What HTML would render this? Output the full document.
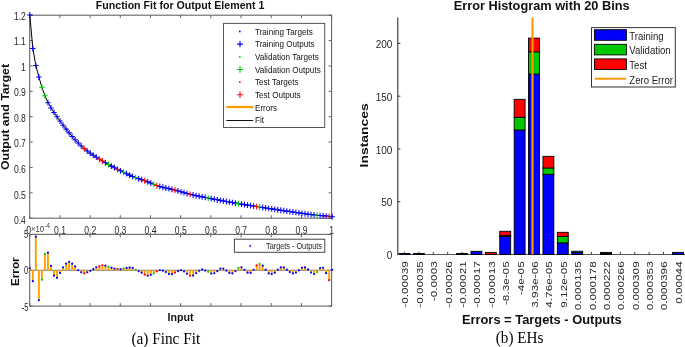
<!DOCTYPE html>
<html><head><meta charset="utf-8"><title>Function Fit and Error Histogram</title><style>html,body{margin:0;padding:0;background:#fff;width:685px;height:347px;overflow:hidden}</style></head><body>
<svg width="685" height="347" viewBox="0 0 685 347" style="display:block;filter:blur(0.3px)">
<rect width="685" height="347" fill="#fff"/>
<text x="95.8" y="8.7" font-family="'Liberation Sans', Arial, Helvetica, sans-serif" font-weight="bold" font-size="10.2" textLength="168.6" lengthAdjust="spacingAndGlyphs" fill="#111">Function Fit for Output Element 1</text>
<rect x="29.7" y="15.2" width="301.90" height="203.00" fill="none" stroke="#666" stroke-width="1.1"/>
<path d="M29.70 218.2v-3M29.70 15.2v3 M59.89 218.2v-3M59.89 15.2v3 M90.08 218.2v-3M90.08 15.2v3 M120.27 218.2v-3M120.27 15.2v3 M150.46 218.2v-3M150.46 15.2v3 M180.65 218.2v-3M180.65 15.2v3 M210.84 218.2v-3M210.84 15.2v3 M241.03 218.2v-3M241.03 15.2v3 M271.22 218.2v-3M271.22 15.2v3 M301.41 218.2v-3M301.41 15.2v3 M331.60 218.2v-3M331.60 15.2v3 M29.7 218.20h3M331.6 218.20h-3 M29.7 192.82h3M331.6 192.82h-3 M29.7 167.45h3M331.6 167.45h-3 M29.7 142.07h3M331.6 142.07h-3 M29.7 116.70h3M331.6 116.70h-3 M29.7 91.32h3M331.6 91.32h-3 M29.7 65.95h3M331.6 65.95h-3 M29.7 40.57h3M331.6 40.57h-3 M29.7 15.20h3M331.6 15.20h-3" stroke="#666" stroke-width="1" fill="none"/>
<text transform="translate(25.90,224.10) scale(1.0,1.34)" font-family="'Liberation Sans', Arial, Helvetica, sans-serif" font-size="8.6" text-anchor="end" fill="#262626">0.4</text>
<text transform="translate(25.90,198.55) scale(1.0,1.34)" font-family="'Liberation Sans', Arial, Helvetica, sans-serif" font-size="8.6" text-anchor="end" fill="#262626">0.5</text>
<text transform="translate(25.90,173.00) scale(1.0,1.34)" font-family="'Liberation Sans', Arial, Helvetica, sans-serif" font-size="8.6" text-anchor="end" fill="#262626">0.6</text>
<text transform="translate(25.90,147.45) scale(1.0,1.34)" font-family="'Liberation Sans', Arial, Helvetica, sans-serif" font-size="8.6" text-anchor="end" fill="#262626">0.7</text>
<text transform="translate(25.90,121.90) scale(1.0,1.34)" font-family="'Liberation Sans', Arial, Helvetica, sans-serif" font-size="8.6" text-anchor="end" fill="#262626">0.8</text>
<text transform="translate(25.90,96.35) scale(1.0,1.34)" font-family="'Liberation Sans', Arial, Helvetica, sans-serif" font-size="8.6" text-anchor="end" fill="#262626">0.9</text>
<text transform="translate(25.90,70.80) scale(1.0,1.34)" font-family="'Liberation Sans', Arial, Helvetica, sans-serif" font-size="8.6" text-anchor="end" fill="#262626">1</text>
<text transform="translate(25.90,45.25) scale(1.0,1.34)" font-family="'Liberation Sans', Arial, Helvetica, sans-serif" font-size="8.6" text-anchor="end" fill="#262626">1.1</text>
<text transform="translate(25.90,19.70) scale(1.0,1.34)" font-family="'Liberation Sans', Arial, Helvetica, sans-serif" font-size="8.6" text-anchor="end" fill="#262626">1.2</text>
<polyline points="29.80,15.00 32.82,48.48 35.85,65.59 38.87,77.00 41.90,87.19 44.92,95.82 47.94,102.69 50.97,107.95 53.99,112.45 57.02,116.83 60.04,121.07 63.06,125.17 66.09,129.10 69.11,132.86 72.14,136.44 75.16,139.82 78.18,142.98 81.21,145.92 84.23,148.63 87.26,151.06 90.28,153.26 93.30,155.29 96.33,157.21 99.35,159.10 102.38,160.99 105.40,162.78 108.42,164.48 111.45,166.11 114.47,167.69 117.50,169.25 120.52,170.78 123.54,172.25 126.57,173.71 129.59,175.13 132.62,176.47 135.64,177.68 138.66,178.73 141.69,179.71 144.71,180.73 147.74,181.86 150.76,183.05 153.78,184.28 156.81,185.54 159.83,186.47 162.86,187.27 165.88,188.00 168.90,188.68 171.93,189.38 174.95,190.13 177.98,190.96 181.00,191.83 184.02,192.70 187.05,193.53 190.07,194.29 193.10,194.98 196.12,195.63 199.14,196.26 202.17,196.86 205.19,197.45 208.22,198.04 211.24,198.64 214.26,199.22 217.29,199.80 220.31,200.37 223.34,200.93 226.36,201.49 229.38,202.04 232.41,202.58 235.43,203.11 238.46,203.63 241.48,204.13 244.50,204.63 247.53,205.11 250.55,205.59 253.58,206.06 256.60,206.53 259.62,207.00 262.65,207.48 265.67,207.95 268.70,208.41 271.72,208.88 274.74,209.34 277.77,209.80 280.79,210.25 283.82,210.70 286.84,211.14 289.86,211.58 292.89,212.02 295.91,212.46 298.94,212.90 301.96,213.33 304.98,213.76 308.01,214.17 311.03,214.56 314.06,214.92 317.08,215.25 320.10,215.53 323.13,215.77 326.15,216.03 329.18,216.34 332.20,216.77" fill="none" stroke="#000" stroke-width="1"/>
<path d="M27.10 15.00h5.4M29.80 12.10v5.8" stroke="#0000ff" stroke-width="1.05" fill="none"/>
<path d="M30.12 48.48h5.4M32.82 45.58v5.8" stroke="#0000ff" stroke-width="1.05" fill="none"/>
<path d="M33.15 65.59h5.4M35.85 62.69v5.8" stroke="#0000ff" stroke-width="1.05" fill="none"/>
<path d="M36.17 77.00h5.4M38.87 74.10v5.8" stroke="#0000ff" stroke-width="1.05" fill="none"/>
<path d="M39.20 87.19h5.4M41.90 84.29v5.8" stroke="#00c800" stroke-width="1.05" fill="none"/>
<path d="M42.22 95.82h5.4M44.92 92.92v5.8" stroke="#00c800" stroke-width="1.05" fill="none"/>
<path d="M45.24 102.69h5.4M47.94 99.79v5.8" stroke="#0000ff" stroke-width="1.05" fill="none"/>
<path d="M48.27 107.95h5.4M50.97 105.05v5.8" stroke="#0000ff" stroke-width="1.05" fill="none"/>
<path d="M51.29 112.45h5.4M53.99 109.55v5.8" stroke="#0000ff" stroke-width="1.05" fill="none"/>
<path d="M54.32 116.83h5.4M57.02 113.93v5.8" stroke="#0000ff" stroke-width="1.05" fill="none"/>
<path d="M57.34 121.07h5.4M60.04 118.17v5.8" stroke="#0000ff" stroke-width="1.05" fill="none"/>
<path d="M60.36 125.17h5.4M63.06 122.27v5.8" stroke="#0000ff" stroke-width="1.05" fill="none"/>
<path d="M63.39 129.10h5.4M66.09 126.20v5.8" stroke="#0000ff" stroke-width="1.05" fill="none"/>
<path d="M66.41 132.86h5.4M69.11 129.96v5.8" stroke="#0000ff" stroke-width="1.05" fill="none"/>
<path d="M69.44 136.44h5.4M72.14 133.54v5.8" stroke="#0000ff" stroke-width="1.05" fill="none"/>
<path d="M72.46 139.82h5.4M75.16 136.92v5.8" stroke="#0000ff" stroke-width="1.05" fill="none"/>
<path d="M75.48 142.98h5.4M78.18 140.08v5.8" stroke="#0000ff" stroke-width="1.05" fill="none"/>
<path d="M78.51 145.92h5.4M81.21 143.02v5.8" stroke="#0000ff" stroke-width="1.05" fill="none"/>
<path d="M81.53 148.63h5.4M84.23 145.73v5.8" stroke="#ff0000" stroke-width="1.05" fill="none"/>
<path d="M84.56 151.06h5.4M87.26 148.16v5.8" stroke="#0000ff" stroke-width="1.05" fill="none"/>
<path d="M87.58 153.26h5.4M90.28 150.36v5.8" stroke="#0000ff" stroke-width="1.05" fill="none"/>
<path d="M90.60 155.29h5.4M93.30 152.39v5.8" stroke="#0000ff" stroke-width="1.05" fill="none"/>
<path d="M93.63 157.21h5.4M96.33 154.31v5.8" stroke="#0000ff" stroke-width="1.05" fill="none"/>
<path d="M96.65 159.10h5.4M99.35 156.20v5.8" stroke="#ff0000" stroke-width="1.05" fill="none"/>
<path d="M99.68 160.99h5.4M102.38 158.09v5.8" stroke="#ff0000" stroke-width="1.05" fill="none"/>
<path d="M102.70 162.78h5.4M105.40 159.88v5.8" stroke="#0000ff" stroke-width="1.05" fill="none"/>
<path d="M105.72 164.48h5.4M108.42 161.58v5.8" stroke="#00c800" stroke-width="1.05" fill="none"/>
<path d="M108.75 166.11h5.4M111.45 163.21v5.8" stroke="#0000ff" stroke-width="1.05" fill="none"/>
<path d="M111.77 167.69h5.4M114.47 164.79v5.8" stroke="#0000ff" stroke-width="1.05" fill="none"/>
<path d="M114.80 169.25h5.4M117.50 166.35v5.8" stroke="#ff0000" stroke-width="1.05" fill="none"/>
<path d="M117.82 170.78h5.4M120.52 167.88v5.8" stroke="#0000ff" stroke-width="1.05" fill="none"/>
<path d="M120.84 172.25h5.4M123.54 169.35v5.8" stroke="#00c800" stroke-width="1.05" fill="none"/>
<path d="M123.87 173.71h5.4M126.57 170.81v5.8" stroke="#0000ff" stroke-width="1.05" fill="none"/>
<path d="M126.89 175.13h5.4M129.59 172.23v5.8" stroke="#0000ff" stroke-width="1.05" fill="none"/>
<path d="M129.92 176.47h5.4M132.62 173.57v5.8" stroke="#0000ff" stroke-width="1.05" fill="none"/>
<path d="M132.94 177.68h5.4M135.64 174.78v5.8" stroke="#00c800" stroke-width="1.05" fill="none"/>
<path d="M135.96 178.73h5.4M138.66 175.83v5.8" stroke="#0000ff" stroke-width="1.05" fill="none"/>
<path d="M138.99 179.71h5.4M141.69 176.81v5.8" stroke="#0000ff" stroke-width="1.05" fill="none"/>
<path d="M142.01 180.73h5.4M144.71 177.83v5.8" stroke="#ff0000" stroke-width="1.05" fill="none"/>
<path d="M145.04 181.86h5.4M147.74 178.96v5.8" stroke="#0000ff" stroke-width="1.05" fill="none"/>
<path d="M148.06 183.05h5.4M150.76 180.15v5.8" stroke="#0000ff" stroke-width="1.05" fill="none"/>
<path d="M151.08 184.28h5.4M153.78 181.38v5.8" stroke="#00c800" stroke-width="1.05" fill="none"/>
<path d="M154.11 185.54h5.4M156.81 182.64v5.8" stroke="#ff0000" stroke-width="1.05" fill="none"/>
<path d="M157.13 186.47h5.4M159.83 183.57v5.8" stroke="#0000ff" stroke-width="1.05" fill="none"/>
<path d="M160.16 187.27h5.4M162.86 184.37v5.8" stroke="#0000ff" stroke-width="1.05" fill="none"/>
<path d="M163.18 188.00h5.4M165.88 185.10v5.8" stroke="#0000ff" stroke-width="1.05" fill="none"/>
<path d="M166.20 188.68h5.4M168.90 185.78v5.8" stroke="#0000ff" stroke-width="1.05" fill="none"/>
<path d="M169.23 189.38h5.4M171.93 186.48v5.8" stroke="#0000ff" stroke-width="1.05" fill="none"/>
<path d="M172.25 190.13h5.4M174.95 187.23v5.8" stroke="#ff0000" stroke-width="1.05" fill="none"/>
<path d="M175.28 190.96h5.4M177.98 188.06v5.8" stroke="#0000ff" stroke-width="1.05" fill="none"/>
<path d="M178.30 191.83h5.4M181.00 188.93v5.8" stroke="#0000ff" stroke-width="1.05" fill="none"/>
<path d="M181.32 192.70h5.4M184.02 189.80v5.8" stroke="#0000ff" stroke-width="1.05" fill="none"/>
<path d="M184.35 193.53h5.4M187.05 190.63v5.8" stroke="#0000ff" stroke-width="1.05" fill="none"/>
<path d="M187.37 194.29h5.4M190.07 191.39v5.8" stroke="#ff0000" stroke-width="1.05" fill="none"/>
<path d="M190.40 194.98h5.4M193.10 192.08v5.8" stroke="#0000ff" stroke-width="1.05" fill="none"/>
<path d="M193.42 195.63h5.4M196.12 192.73v5.8" stroke="#0000ff" stroke-width="1.05" fill="none"/>
<path d="M196.44 196.26h5.4M199.14 193.36v5.8" stroke="#0000ff" stroke-width="1.05" fill="none"/>
<path d="M199.47 196.86h5.4M202.17 193.96v5.8" stroke="#0000ff" stroke-width="1.05" fill="none"/>
<path d="M202.49 197.45h5.4M205.19 194.55v5.8" stroke="#0000ff" stroke-width="1.05" fill="none"/>
<path d="M205.52 198.04h5.4M208.22 195.14v5.8" stroke="#00c800" stroke-width="1.05" fill="none"/>
<path d="M208.54 198.64h5.4M211.24 195.74v5.8" stroke="#0000ff" stroke-width="1.05" fill="none"/>
<path d="M211.56 199.22h5.4M214.26 196.32v5.8" stroke="#0000ff" stroke-width="1.05" fill="none"/>
<path d="M214.59 199.80h5.4M217.29 196.90v5.8" stroke="#0000ff" stroke-width="1.05" fill="none"/>
<path d="M217.61 200.37h5.4M220.31 197.47v5.8" stroke="#0000ff" stroke-width="1.05" fill="none"/>
<path d="M220.64 200.93h5.4M223.34 198.03v5.8" stroke="#0000ff" stroke-width="1.05" fill="none"/>
<path d="M223.66 201.49h5.4M226.36 198.59v5.8" stroke="#0000ff" stroke-width="1.05" fill="none"/>
<path d="M226.68 202.04h5.4M229.38 199.14v5.8" stroke="#0000ff" stroke-width="1.05" fill="none"/>
<path d="M229.71 202.58h5.4M232.41 199.68v5.8" stroke="#0000ff" stroke-width="1.05" fill="none"/>
<path d="M232.73 203.11h5.4M235.43 200.21v5.8" stroke="#0000ff" stroke-width="1.05" fill="none"/>
<path d="M235.76 203.63h5.4M238.46 200.73v5.8" stroke="#00c800" stroke-width="1.05" fill="none"/>
<path d="M238.78 204.13h5.4M241.48 201.23v5.8" stroke="#0000ff" stroke-width="1.05" fill="none"/>
<path d="M241.80 204.63h5.4M244.50 201.73v5.8" stroke="#0000ff" stroke-width="1.05" fill="none"/>
<path d="M244.83 205.11h5.4M247.53 202.21v5.8" stroke="#0000ff" stroke-width="1.05" fill="none"/>
<path d="M247.85 205.59h5.4M250.55 202.69v5.8" stroke="#0000ff" stroke-width="1.05" fill="none"/>
<path d="M250.88 206.06h5.4M253.58 203.16v5.8" stroke="#0000ff" stroke-width="1.05" fill="none"/>
<path d="M253.90 206.53h5.4M256.60 203.63v5.8" stroke="#ff0000" stroke-width="1.05" fill="none"/>
<path d="M256.92 207.00h5.4M259.62 204.10v5.8" stroke="#00c800" stroke-width="1.05" fill="none"/>
<path d="M259.95 207.48h5.4M262.65 204.58v5.8" stroke="#0000ff" stroke-width="1.05" fill="none"/>
<path d="M262.97 207.95h5.4M265.67 205.05v5.8" stroke="#0000ff" stroke-width="1.05" fill="none"/>
<path d="M266.00 208.41h5.4M268.70 205.51v5.8" stroke="#0000ff" stroke-width="1.05" fill="none"/>
<path d="M269.02 208.88h5.4M271.72 205.98v5.8" stroke="#0000ff" stroke-width="1.05" fill="none"/>
<path d="M272.04 209.34h5.4M274.74 206.44v5.8" stroke="#0000ff" stroke-width="1.05" fill="none"/>
<path d="M275.07 209.80h5.4M277.77 206.90v5.8" stroke="#0000ff" stroke-width="1.05" fill="none"/>
<path d="M278.09 210.25h5.4M280.79 207.35v5.8" stroke="#0000ff" stroke-width="1.05" fill="none"/>
<path d="M281.12 210.70h5.4M283.82 207.80v5.8" stroke="#0000ff" stroke-width="1.05" fill="none"/>
<path d="M284.14 211.14h5.4M286.84 208.24v5.8" stroke="#0000ff" stroke-width="1.05" fill="none"/>
<path d="M287.16 211.58h5.4M289.86 208.68v5.8" stroke="#0000ff" stroke-width="1.05" fill="none"/>
<path d="M290.19 212.02h5.4M292.89 209.12v5.8" stroke="#0000ff" stroke-width="1.05" fill="none"/>
<path d="M293.21 212.46h5.4M295.91 209.56v5.8" stroke="#0000ff" stroke-width="1.05" fill="none"/>
<path d="M296.24 212.90h5.4M298.94 210.00v5.8" stroke="#0000ff" stroke-width="1.05" fill="none"/>
<path d="M299.26 213.33h5.4M301.96 210.43v5.8" stroke="#0000ff" stroke-width="1.05" fill="none"/>
<path d="M302.28 213.76h5.4M304.98 210.86v5.8" stroke="#0000ff" stroke-width="1.05" fill="none"/>
<path d="M305.31 214.17h5.4M308.01 211.27v5.8" stroke="#0000ff" stroke-width="1.05" fill="none"/>
<path d="M308.33 214.56h5.4M311.03 211.66v5.8" stroke="#0000ff" stroke-width="1.05" fill="none"/>
<path d="M311.36 214.92h5.4M314.06 212.02v5.8" stroke="#0000ff" stroke-width="1.05" fill="none"/>
<path d="M314.38 215.25h5.4M317.08 212.35v5.8" stroke="#00c800" stroke-width="1.05" fill="none"/>
<path d="M317.40 215.53h5.4M320.10 212.63v5.8" stroke="#0000ff" stroke-width="1.05" fill="none"/>
<path d="M320.43 215.77h5.4M323.13 212.87v5.8" stroke="#0000ff" stroke-width="1.05" fill="none"/>
<path d="M323.45 216.03h5.4M326.15 213.13v5.8" stroke="#0000ff" stroke-width="1.05" fill="none"/>
<path d="M326.48 216.34h5.4M329.18 213.44v5.8" stroke="#ff0000" stroke-width="1.05" fill="none"/>
<path d="M329.50 216.77h5.4M332.20 213.87v5.8" stroke="#0000ff" stroke-width="1.05" fill="none"/>
<rect x="223.5" y="23.4" width="101.2" height="104.1" fill="#fff" stroke="#555" stroke-width="1"/>
<rect x="239" y="30.70" width="1.6" height="1.6" fill="#0000ff"/>
<text transform="translate(255.00,34.60) scale(1.0,1.06)" font-family="'Liberation Sans', Arial, Helvetica, sans-serif" font-size="8.12" fill="#111">Training Targets</text>
<path d="M237 44.16h6M240 40.96v6.4" stroke="#0000ff" stroke-width="1.1"/>
<text transform="translate(255.00,47.26) scale(1.0,1.06)" font-family="'Liberation Sans', Arial, Helvetica, sans-serif" font-size="8.12" fill="#111">Training Outputs</text>
<rect x="239" y="56.02" width="1.6" height="1.6" fill="#00c800"/>
<text transform="translate(255.00,59.92) scale(1.0,1.06)" font-family="'Liberation Sans', Arial, Helvetica, sans-serif" font-size="8.12" fill="#111">Validation Targets</text>
<path d="M237 69.48h6M240 66.28v6.4" stroke="#00c800" stroke-width="1.1"/>
<text transform="translate(255.00,72.58) scale(1.0,1.06)" font-family="'Liberation Sans', Arial, Helvetica, sans-serif" font-size="8.12" fill="#111">Validation Outputs</text>
<rect x="239" y="81.34" width="1.6" height="1.6" fill="#ff0000"/>
<text transform="translate(255.00,85.24) scale(1.0,1.06)" font-family="'Liberation Sans', Arial, Helvetica, sans-serif" font-size="8.12" fill="#111">Test Targets</text>
<path d="M237 94.80h6M240 91.60v6.4" stroke="#ff0000" stroke-width="1.1"/>
<text transform="translate(255.00,97.90) scale(1.0,1.06)" font-family="'Liberation Sans', Arial, Helvetica, sans-serif" font-size="8.12" fill="#111">Test Outputs</text>
<path d="M226.4 107.00H253.2" stroke="#ff9900" stroke-width="2.2"/>
<text transform="translate(255.00,110.56) scale(1.0,1.06)" font-family="'Liberation Sans', Arial, Helvetica, sans-serif" font-size="8.12" fill="#111">Errors</text>
<path d="M226.4 120.50H253.2" stroke="#111" stroke-width="1"/>
<text transform="translate(255.00,123.22) scale(1.0,1.06)" font-family="'Liberation Sans', Arial, Helvetica, sans-serif" font-size="8.12" fill="#111">Fit</text>
<text transform="translate(28.70,233.80) scale(1.0,1.24)" font-family="'Liberation Sans', Arial, Helvetica, sans-serif" font-size="8.6" text-anchor="middle" fill="#262626">0</text>
<text transform="translate(59.99,233.80) scale(1.0,1.24)" font-family="'Liberation Sans', Arial, Helvetica, sans-serif" font-size="8.6" text-anchor="middle" fill="#262626">0.1</text>
<text transform="translate(90.18,233.80) scale(1.0,1.24)" font-family="'Liberation Sans', Arial, Helvetica, sans-serif" font-size="8.6" text-anchor="middle" fill="#262626">0.2</text>
<text transform="translate(120.37,233.80) scale(1.0,1.24)" font-family="'Liberation Sans', Arial, Helvetica, sans-serif" font-size="8.6" text-anchor="middle" fill="#262626">0.3</text>
<text transform="translate(150.56,233.80) scale(1.0,1.24)" font-family="'Liberation Sans', Arial, Helvetica, sans-serif" font-size="8.6" text-anchor="middle" fill="#262626">0.4</text>
<text transform="translate(180.75,233.80) scale(1.0,1.24)" font-family="'Liberation Sans', Arial, Helvetica, sans-serif" font-size="8.6" text-anchor="middle" fill="#262626">0.5</text>
<text transform="translate(210.94,233.80) scale(1.0,1.24)" font-family="'Liberation Sans', Arial, Helvetica, sans-serif" font-size="8.6" text-anchor="middle" fill="#262626">0.6</text>
<text transform="translate(241.13,233.80) scale(1.0,1.24)" font-family="'Liberation Sans', Arial, Helvetica, sans-serif" font-size="8.6" text-anchor="middle" fill="#262626">0.7</text>
<text transform="translate(271.32,233.80) scale(1.0,1.24)" font-family="'Liberation Sans', Arial, Helvetica, sans-serif" font-size="8.6" text-anchor="middle" fill="#262626">0.8</text>
<text transform="translate(301.51,233.80) scale(1.0,1.24)" font-family="'Liberation Sans', Arial, Helvetica, sans-serif" font-size="8.6" text-anchor="middle" fill="#262626">0.9</text>
<text transform="translate(331.70,233.80) scale(1.0,1.24)" font-family="'Liberation Sans', Arial, Helvetica, sans-serif" font-size="8.6" text-anchor="middle" fill="#262626">1</text>
<rect x="29.7" y="234.4" width="301.90" height="71.70" fill="none" stroke="#666" stroke-width="1.1"/>
<path d="M29.70 306.1v-3M29.70 234.4v3 M59.89 306.1v-3M59.89 234.4v3 M90.08 306.1v-3M90.08 234.4v3 M120.27 306.1v-3M120.27 234.4v3 M150.46 306.1v-3M150.46 234.4v3 M180.65 306.1v-3M180.65 234.4v3 M210.84 306.1v-3M210.84 234.4v3 M241.03 306.1v-3M241.03 234.4v3 M271.22 306.1v-3M271.22 234.4v3 M301.41 306.1v-3M301.41 234.4v3 M331.60 306.1v-3M331.60 234.4v3 M29.7 234.40h3M331.6 234.40h-3 M29.7 270.25h3M331.6 270.25h-3 M29.7 306.10h3M331.6 306.10h-3" stroke="#666" stroke-width="1" fill="none"/>
<path d="M29.7 270.25H331.6" stroke="#7a7a72" stroke-width="1.2"/>
<path d="M29.80 270.25V268.05 M32.82 270.25V281.15 M35.85 270.25V236.65 M38.87 270.25V300.25 M41.90 270.25V279.65 M44.92 270.25V253.75 M47.94 270.25V252.65 M50.97 270.25V265.85 M53.99 270.25V275.65 M57.02 270.25V277.85 M60.04 270.25V273.05 M63.06 270.25V267.35 M66.09 270.25V263.65 M69.11 270.25V261.85 M72.14 270.25V263.65 M75.16 270.25V266.45 M78.18 270.25V270.25 M81.21 270.25V272.35 M84.23 270.25V273.45 M87.26 270.25V272.35 M90.28 270.25V270.85 M93.30 270.25V269.15 M96.33 270.25V267.35 M99.35 270.25V266.45 M102.38 270.25V265.35 M105.40 270.25V265.65 M108.42 270.25V266.75 M111.45 270.25V267.65 M114.47 270.25V268.55 M117.50 270.25V268.75 M120.52 270.25V269.15 M123.54 270.25V268.55 M126.57 270.25V267.95 M129.59 270.25V267.65 M132.62 270.25V267.95 M135.64 270.25V269.75 M138.66 270.25V271.25 M141.69 270.25V272.65 M144.71 270.25V274.65 M147.74 270.25V275.75 M150.76 270.25V274.95 M153.78 270.25V273.45 M156.81 270.25V271.45 M159.83 270.25V270.25 M162.86 270.25V270.65 M165.88 270.25V272.05 M168.90 270.25V274.05 M171.93 270.25V274.15 M174.95 270.25V272.65 M177.98 270.25V271.15 M181.00 270.25V270.25 M184.02 270.25V271.45 M187.05 270.25V273.85 M190.07 270.25V275.75 M193.10 270.25V275.55 M196.12 270.25V273.25 M199.14 270.25V270.85 M202.17 270.25V269.45 M205.19 270.25V270.55 M208.22 270.25V271.85 M211.24 270.25V273.55 M214.26 270.25V273.25 M217.29 270.25V271.15 M220.31 270.25V268.55 M223.34 270.25V268.55 M226.36 270.25V270.65 M229.38 270.25V272.95 M232.41 270.25V273.45 M235.43 270.25V271.25 M238.46 270.25V267.75 M241.48 270.25V267.35 M244.50 270.25V269.75 M247.53 270.25V272.65 M250.55 270.25V272.95 M253.58 270.25V269.75 M256.60 270.25V265.35 M259.62 270.25V263.75 M262.65 270.25V265.65 M265.67 270.25V269.65 M268.70 270.25V273.45 M271.72 270.25V274.05 M274.74 270.25V272.65 M277.77 270.25V269.65 M280.79 270.25V267.45 M283.82 270.25V267.45 M286.84 270.25V269.65 M289.86 270.25V272.05 M292.89 270.25V273.45 M295.91 270.25V272.55 M298.94 270.25V270.45 M301.96 270.25V267.75 M304.98 270.25V267.45 M308.01 270.25V269.45 M311.03 270.25V272.55 M314.06 270.25V274.05 M317.08 270.25V272.05 M320.10 270.25V268.05 M323.13 270.25V267.75 M326.15 270.25V273.15 M329.18 270.25V280.15 M332.20 270.25V269.85" stroke="#ffa000" stroke-width="1.9" fill="none"/>
<circle cx="29.80" cy="268.05" r="1.1" fill="#0000ff"/>
<circle cx="32.82" cy="281.15" r="1.1" fill="#0000ff"/>
<circle cx="35.85" cy="236.65" r="1.1" fill="#0000ff"/>
<circle cx="38.87" cy="300.25" r="1.1" fill="#0000ff"/>
<circle cx="41.90" cy="279.65" r="1.1" fill="#00c800"/>
<circle cx="44.92" cy="253.75" r="1.1" fill="#00c800"/>
<circle cx="47.94" cy="252.65" r="1.1" fill="#0000ff"/>
<circle cx="50.97" cy="265.85" r="1.1" fill="#0000ff"/>
<circle cx="53.99" cy="275.65" r="1.1" fill="#0000ff"/>
<circle cx="57.02" cy="277.85" r="1.1" fill="#0000ff"/>
<circle cx="60.04" cy="273.05" r="1.1" fill="#0000ff"/>
<circle cx="63.06" cy="267.35" r="1.1" fill="#0000ff"/>
<circle cx="66.09" cy="263.65" r="1.1" fill="#0000ff"/>
<circle cx="69.11" cy="261.85" r="1.1" fill="#0000ff"/>
<circle cx="72.14" cy="263.65" r="1.1" fill="#0000ff"/>
<circle cx="75.16" cy="266.45" r="1.1" fill="#0000ff"/>
<circle cx="78.18" cy="270.25" r="1.1" fill="#0000ff"/>
<circle cx="81.21" cy="272.35" r="1.1" fill="#0000ff"/>
<circle cx="84.23" cy="273.45" r="1.1" fill="#ff0000"/>
<circle cx="87.26" cy="272.35" r="1.1" fill="#0000ff"/>
<circle cx="90.28" cy="270.85" r="1.1" fill="#0000ff"/>
<circle cx="93.30" cy="269.15" r="1.1" fill="#0000ff"/>
<circle cx="96.33" cy="267.35" r="1.1" fill="#0000ff"/>
<circle cx="99.35" cy="266.45" r="1.1" fill="#ff0000"/>
<circle cx="102.38" cy="265.35" r="1.1" fill="#ff0000"/>
<circle cx="105.40" cy="265.65" r="1.1" fill="#0000ff"/>
<circle cx="108.42" cy="266.75" r="1.1" fill="#00c800"/>
<circle cx="111.45" cy="267.65" r="1.1" fill="#0000ff"/>
<circle cx="114.47" cy="268.55" r="1.1" fill="#0000ff"/>
<circle cx="117.50" cy="268.75" r="1.1" fill="#ff0000"/>
<circle cx="120.52" cy="269.15" r="1.1" fill="#0000ff"/>
<circle cx="123.54" cy="268.55" r="1.1" fill="#00c800"/>
<circle cx="126.57" cy="267.95" r="1.1" fill="#0000ff"/>
<circle cx="129.59" cy="267.65" r="1.1" fill="#0000ff"/>
<circle cx="132.62" cy="267.95" r="1.1" fill="#0000ff"/>
<circle cx="135.64" cy="269.75" r="1.1" fill="#00c800"/>
<circle cx="138.66" cy="271.25" r="1.1" fill="#0000ff"/>
<circle cx="141.69" cy="272.65" r="1.1" fill="#0000ff"/>
<circle cx="144.71" cy="274.65" r="1.1" fill="#ff0000"/>
<circle cx="147.74" cy="275.75" r="1.1" fill="#0000ff"/>
<circle cx="150.76" cy="274.95" r="1.1" fill="#0000ff"/>
<circle cx="153.78" cy="273.45" r="1.1" fill="#00c800"/>
<circle cx="156.81" cy="271.45" r="1.1" fill="#ff0000"/>
<circle cx="159.83" cy="270.25" r="1.1" fill="#0000ff"/>
<circle cx="162.86" cy="270.65" r="1.1" fill="#0000ff"/>
<circle cx="165.88" cy="272.05" r="1.1" fill="#0000ff"/>
<circle cx="168.90" cy="274.05" r="1.1" fill="#0000ff"/>
<circle cx="171.93" cy="274.15" r="1.1" fill="#0000ff"/>
<circle cx="174.95" cy="272.65" r="1.1" fill="#ff0000"/>
<circle cx="177.98" cy="271.15" r="1.1" fill="#0000ff"/>
<circle cx="181.00" cy="270.25" r="1.1" fill="#0000ff"/>
<circle cx="184.02" cy="271.45" r="1.1" fill="#0000ff"/>
<circle cx="187.05" cy="273.85" r="1.1" fill="#0000ff"/>
<circle cx="190.07" cy="275.75" r="1.1" fill="#ff0000"/>
<circle cx="193.10" cy="275.55" r="1.1" fill="#0000ff"/>
<circle cx="196.12" cy="273.25" r="1.1" fill="#0000ff"/>
<circle cx="199.14" cy="270.85" r="1.1" fill="#0000ff"/>
<circle cx="202.17" cy="269.45" r="1.1" fill="#0000ff"/>
<circle cx="205.19" cy="270.55" r="1.1" fill="#0000ff"/>
<circle cx="208.22" cy="271.85" r="1.1" fill="#00c800"/>
<circle cx="211.24" cy="273.55" r="1.1" fill="#0000ff"/>
<circle cx="214.26" cy="273.25" r="1.1" fill="#0000ff"/>
<circle cx="217.29" cy="271.15" r="1.1" fill="#0000ff"/>
<circle cx="220.31" cy="268.55" r="1.1" fill="#0000ff"/>
<circle cx="223.34" cy="268.55" r="1.1" fill="#0000ff"/>
<circle cx="226.36" cy="270.65" r="1.1" fill="#0000ff"/>
<circle cx="229.38" cy="272.95" r="1.1" fill="#0000ff"/>
<circle cx="232.41" cy="273.45" r="1.1" fill="#0000ff"/>
<circle cx="235.43" cy="271.25" r="1.1" fill="#0000ff"/>
<circle cx="238.46" cy="267.75" r="1.1" fill="#00c800"/>
<circle cx="241.48" cy="267.35" r="1.1" fill="#0000ff"/>
<circle cx="244.50" cy="269.75" r="1.1" fill="#0000ff"/>
<circle cx="247.53" cy="272.65" r="1.1" fill="#0000ff"/>
<circle cx="250.55" cy="272.95" r="1.1" fill="#0000ff"/>
<circle cx="253.58" cy="269.75" r="1.1" fill="#0000ff"/>
<circle cx="256.60" cy="265.35" r="1.1" fill="#ff0000"/>
<circle cx="259.62" cy="263.75" r="1.1" fill="#00c800"/>
<circle cx="262.65" cy="265.65" r="1.1" fill="#0000ff"/>
<circle cx="265.67" cy="269.65" r="1.1" fill="#0000ff"/>
<circle cx="268.70" cy="273.45" r="1.1" fill="#0000ff"/>
<circle cx="271.72" cy="274.05" r="1.1" fill="#0000ff"/>
<circle cx="274.74" cy="272.65" r="1.1" fill="#0000ff"/>
<circle cx="277.77" cy="269.65" r="1.1" fill="#0000ff"/>
<circle cx="280.79" cy="267.45" r="1.1" fill="#0000ff"/>
<circle cx="283.82" cy="267.45" r="1.1" fill="#0000ff"/>
<circle cx="286.84" cy="269.65" r="1.1" fill="#0000ff"/>
<circle cx="289.86" cy="272.05" r="1.1" fill="#0000ff"/>
<circle cx="292.89" cy="273.45" r="1.1" fill="#0000ff"/>
<circle cx="295.91" cy="272.55" r="1.1" fill="#0000ff"/>
<circle cx="298.94" cy="270.45" r="1.1" fill="#0000ff"/>
<circle cx="301.96" cy="267.75" r="1.1" fill="#0000ff"/>
<circle cx="304.98" cy="267.45" r="1.1" fill="#0000ff"/>
<circle cx="308.01" cy="269.45" r="1.1" fill="#0000ff"/>
<circle cx="311.03" cy="272.55" r="1.1" fill="#0000ff"/>
<circle cx="314.06" cy="274.05" r="1.1" fill="#0000ff"/>
<circle cx="317.08" cy="272.05" r="1.1" fill="#00c800"/>
<circle cx="320.10" cy="268.05" r="1.1" fill="#0000ff"/>
<circle cx="323.13" cy="267.75" r="1.1" fill="#0000ff"/>
<circle cx="326.15" cy="273.15" r="1.1" fill="#0000ff"/>
<circle cx="329.18" cy="280.15" r="1.1" fill="#ff0000"/>
<circle cx="332.20" cy="269.85" r="1.1" fill="#0000ff"/>
<text transform="translate(28.20,238.10) scale(1.0,1.32)" font-family="'Liberation Sans', Arial, Helvetica, sans-serif" font-size="7.6" text-anchor="end" fill="#262626">5</text>
<text transform="translate(28.20,273.60) scale(1.0,1.4)" font-family="'Liberation Sans', Arial, Helvetica, sans-serif" font-size="7.6" text-anchor="end" fill="#262626">0</text>
<text transform="translate(28.60,310.60) scale(1.0,1.4)" font-family="'Liberation Sans', Arial, Helvetica, sans-serif" font-size="7.6" text-anchor="end" fill="#262626">-5</text>
<text transform="translate(30.9,231.8) scale(1,1.25)" font-family="'Liberation Sans', Arial, Helvetica, sans-serif" font-size="7.8" textLength="13.2" lengthAdjust="spacingAndGlyphs" fill="#444">×10</text>
<text x="44.0" y="228.1" font-family="'Liberation Sans', Arial, Helvetica, sans-serif" font-size="6.8" fill="#444">-4</text>
<rect x="234.4" y="239.2" width="90.4" height="13.1" fill="#fff" stroke="#444" stroke-width="1"/>
<rect x="249.4" y="245.1" width="1.6" height="1.6" fill="#0000ff"/>
<text transform="translate(266,248.8) scale(1,1.18)" font-family="'Liberation Sans', Arial, Helvetica, sans-serif" font-size="8" textLength="56" lengthAdjust="spacingAndGlyphs" fill="#1c1c1c">Targets - Outputs</text>
<text transform="translate(9.2,117) rotate(-90)" font-family="'Liberation Sans', Arial, Helvetica, sans-serif" font-weight="bold" font-size="10.4" text-anchor="middle" textLength="106" lengthAdjust="spacingAndGlyphs" fill="#111">Output and Target</text>
<text transform="translate(19.4,271.7) rotate(-90)" font-family="'Liberation Sans', Arial, Helvetica, sans-serif" font-weight="bold" font-size="10.4" text-anchor="middle" textLength="28.6" lengthAdjust="spacingAndGlyphs" fill="#111">Error</text>
<text x="167.6" y="321.3" font-family="'Liberation Sans', Arial, Helvetica, sans-serif" font-weight="bold" font-size="10.8" textLength="26" lengthAdjust="spacingAndGlyphs" fill="#111">Input</text>
<text x="131.4" y="343.5" font-family="'Liberation Serif', 'Times New Roman', serif" font-size="15.8" textLength="68.8" lengthAdjust="spacingAndGlyphs" fill="#000">(a) Finc Fit</text>
<text x="453.7" y="10.4" font-family="'Liberation Sans', Arial, Helvetica, sans-serif" font-weight="bold" font-size="12.4" textLength="176" lengthAdjust="spacingAndGlyphs" fill="#111">Error Histogram with 20 Bins</text>
<path d="M397.8 254.5H685.5" stroke="#555" stroke-width="1.1" fill="none"/>
<path d="M404.50 254.5v-2.6 M418.89 254.5v-2.6 M433.28 254.5v-2.6 M447.67 254.5v-2.6 M462.06 254.5v-2.6 M476.45 254.5v-2.6 M490.84 254.5v-2.6 M505.23 254.5v-2.6 M519.62 254.5v-2.6 M534.01 254.5v-2.6 M548.40 254.5v-2.6 M562.79 254.5v-2.6 M577.18 254.5v-2.6 M591.57 254.5v-2.6 M605.96 254.5v-2.6 M620.35 254.5v-2.6 M634.74 254.5v-2.6 M649.13 254.5v-2.6 M663.52 254.5v-2.6 M677.91 254.5v-2.6" stroke="#444" stroke-width="1" fill="none"/>
<rect x="399.05" y="253.44" width="10.90" height="1.06" fill="#0000ff" stroke="#000" stroke-width="0.9"/>
<rect x="413.44" y="253.44" width="10.90" height="1.06" fill="#0000ff" stroke="#000" stroke-width="0.9"/>
<rect x="456.61" y="253.44" width="10.90" height="1.06" fill="#0000ff" stroke="#000" stroke-width="0.9"/>
<rect x="471.00" y="251.33" width="10.90" height="3.17" fill="#0000ff" stroke="#000" stroke-width="0.9"/>
<rect x="485.39" y="252.39" width="10.90" height="2.11" fill="#ff0000" stroke="#000" stroke-width="0.9"/>
<rect x="499.78" y="236.56" width="10.90" height="17.94" fill="#0000ff" stroke="#000" stroke-width="0.9"/>
<rect x="499.78" y="235.50" width="10.90" height="1.06" fill="#00c800" stroke="#000" stroke-width="0.9"/>
<rect x="499.78" y="231.28" width="10.90" height="4.22" fill="#ff0000" stroke="#000" stroke-width="0.9"/>
<rect x="514.17" y="129.95" width="10.90" height="124.55" fill="#0000ff" stroke="#000" stroke-width="0.9"/>
<rect x="514.17" y="117.28" width="10.90" height="12.67" fill="#00c800" stroke="#000" stroke-width="0.9"/>
<rect x="514.17" y="99.34" width="10.90" height="17.94" fill="#ff0000" stroke="#000" stroke-width="0.9"/>
<rect x="528.56" y="74.01" width="10.90" height="180.49" fill="#0000ff" stroke="#000" stroke-width="0.9"/>
<rect x="528.56" y="51.84" width="10.90" height="22.17" fill="#00c800" stroke="#000" stroke-width="0.9"/>
<rect x="528.56" y="38.12" width="10.90" height="13.72" fill="#ff0000" stroke="#000" stroke-width="0.9"/>
<rect x="542.95" y="174.28" width="10.90" height="80.22" fill="#0000ff" stroke="#000" stroke-width="0.9"/>
<rect x="542.95" y="167.95" width="10.90" height="6.33" fill="#00c800" stroke="#000" stroke-width="0.9"/>
<rect x="542.95" y="156.34" width="10.90" height="11.61" fill="#ff0000" stroke="#000" stroke-width="0.9"/>
<rect x="557.34" y="242.89" width="10.90" height="11.61" fill="#0000ff" stroke="#000" stroke-width="0.9"/>
<rect x="557.34" y="236.56" width="10.90" height="6.33" fill="#00c800" stroke="#000" stroke-width="0.9"/>
<rect x="557.34" y="232.33" width="10.90" height="4.22" fill="#ff0000" stroke="#000" stroke-width="0.9"/>
<rect x="571.73" y="252.39" width="10.90" height="2.11" fill="#0000ff" stroke="#000" stroke-width="0.9"/>
<rect x="571.73" y="251.23" width="10.90" height="1.16" fill="#00c800" stroke="#000" stroke-width="0.9"/>
<rect x="600.51" y="253.44" width="10.90" height="1.06" fill="#0000ff" stroke="#000" stroke-width="0.9"/>
<rect x="600.51" y="252.39" width="10.90" height="1.06" fill="#ff0000" stroke="#000" stroke-width="0.9"/>
<rect x="672.46" y="252.39" width="10.90" height="2.11" fill="#0000ff" stroke="#000" stroke-width="0.9"/>
<path d="M397.8 17.5V255.0" stroke="#333" stroke-width="1.1" fill="none"/>
<path d="M397.8 254.50h2.6 M397.8 201.72h2.6 M397.8 148.95h2.6 M397.8 96.17h2.6 M397.8 43.40h2.6" stroke="#333" stroke-width="1" fill="none"/>
<text transform="translate(392.30,259.20) scale(1.0,1.04)" font-family="'Liberation Sans', Arial, Helvetica, sans-serif" font-size="10" text-anchor="end" fill="#262626">0</text>
<text transform="translate(392.30,206.42) scale(1.0,1.04)" font-family="'Liberation Sans', Arial, Helvetica, sans-serif" font-size="10" text-anchor="end" fill="#262626">50</text>
<text transform="translate(392.30,153.65) scale(1.0,1.04)" font-family="'Liberation Sans', Arial, Helvetica, sans-serif" font-size="10" text-anchor="end" fill="#262626">100</text>
<text transform="translate(392.30,100.87) scale(1.0,1.04)" font-family="'Liberation Sans', Arial, Helvetica, sans-serif" font-size="10" text-anchor="end" fill="#262626">150</text>
<text transform="translate(392.30,48.10) scale(1.0,1.04)" font-family="'Liberation Sans', Arial, Helvetica, sans-serif" font-size="10" text-anchor="end" fill="#262626">200</text>
<path d="M532.5 17.5V254.5" stroke="#ff9900" stroke-width="2.2"/>
<text transform="translate(408.45,261.30) rotate(-90) scale(1.2,1.0)" font-family="'Liberation Sans', Arial, Helvetica, sans-serif" font-size="9.8" text-anchor="end" fill="#262626">-0.00039</text>
<text transform="translate(422.84,261.30) rotate(-90) scale(1.2,1.0)" font-family="'Liberation Sans', Arial, Helvetica, sans-serif" font-size="9.8" text-anchor="end" fill="#262626">-0.00035</text>
<text transform="translate(437.23,261.30) rotate(-90) scale(1.2,1.0)" font-family="'Liberation Sans', Arial, Helvetica, sans-serif" font-size="9.8" text-anchor="end" fill="#262626">-0.0003</text>
<text transform="translate(451.62,261.30) rotate(-90) scale(1.2,1.0)" font-family="'Liberation Sans', Arial, Helvetica, sans-serif" font-size="9.8" text-anchor="end" fill="#262626">-0.00026</text>
<text transform="translate(466.01,261.30) rotate(-90) scale(1.2,1.0)" font-family="'Liberation Sans', Arial, Helvetica, sans-serif" font-size="9.8" text-anchor="end" fill="#262626">-0.00021</text>
<text transform="translate(480.40,261.30) rotate(-90) scale(1.2,1.0)" font-family="'Liberation Sans', Arial, Helvetica, sans-serif" font-size="9.8" text-anchor="end" fill="#262626">-0.00017</text>
<text transform="translate(494.79,261.30) rotate(-90) scale(1.2,1.0)" font-family="'Liberation Sans', Arial, Helvetica, sans-serif" font-size="9.8" text-anchor="end" fill="#262626">-0.00013</text>
<text transform="translate(509.18,261.30) rotate(-90) scale(1.2,1.0)" font-family="'Liberation Sans', Arial, Helvetica, sans-serif" font-size="9.8" text-anchor="end" fill="#262626">-8.3e-05</text>
<text transform="translate(523.57,261.30) rotate(-90) scale(1.2,1.0)" font-family="'Liberation Sans', Arial, Helvetica, sans-serif" font-size="9.8" text-anchor="end" fill="#262626">-4e-05</text>
<text transform="translate(537.96,261.30) rotate(-90) scale(1.2,1.0)" font-family="'Liberation Sans', Arial, Helvetica, sans-serif" font-size="9.8" text-anchor="end" fill="#262626">3.93e-06</text>
<text transform="translate(552.35,261.30) rotate(-90) scale(1.2,1.0)" font-family="'Liberation Sans', Arial, Helvetica, sans-serif" font-size="9.8" text-anchor="end" fill="#262626">4.76e-05</text>
<text transform="translate(566.74,261.30) rotate(-90) scale(1.2,1.0)" font-family="'Liberation Sans', Arial, Helvetica, sans-serif" font-size="9.8" text-anchor="end" fill="#262626">9.12e-05</text>
<text transform="translate(581.13,261.30) rotate(-90) scale(1.2,1.0)" font-family="'Liberation Sans', Arial, Helvetica, sans-serif" font-size="9.8" text-anchor="end" fill="#262626">0.000135</text>
<text transform="translate(595.52,261.30) rotate(-90) scale(1.2,1.0)" font-family="'Liberation Sans', Arial, Helvetica, sans-serif" font-size="9.8" text-anchor="end" fill="#262626">0.000178</text>
<text transform="translate(609.91,261.30) rotate(-90) scale(1.2,1.0)" font-family="'Liberation Sans', Arial, Helvetica, sans-serif" font-size="9.8" text-anchor="end" fill="#262626">0.000222</text>
<text transform="translate(624.30,261.30) rotate(-90) scale(1.2,1.0)" font-family="'Liberation Sans', Arial, Helvetica, sans-serif" font-size="9.8" text-anchor="end" fill="#262626">0.000266</text>
<text transform="translate(638.69,261.30) rotate(-90) scale(1.2,1.0)" font-family="'Liberation Sans', Arial, Helvetica, sans-serif" font-size="9.8" text-anchor="end" fill="#262626">0.000309</text>
<text transform="translate(653.08,261.30) rotate(-90) scale(1.2,1.0)" font-family="'Liberation Sans', Arial, Helvetica, sans-serif" font-size="9.8" text-anchor="end" fill="#262626">0.000353</text>
<text transform="translate(667.47,261.30) rotate(-90) scale(1.2,1.0)" font-family="'Liberation Sans', Arial, Helvetica, sans-serif" font-size="9.8" text-anchor="end" fill="#262626">0.000396</text>
<text transform="translate(681.86,261.30) rotate(-90) scale(1.2,1.0)" font-family="'Liberation Sans', Arial, Helvetica, sans-serif" font-size="9.8" text-anchor="end" fill="#262626">0.00044</text>
<text transform="translate(367.9,135.4) rotate(-90)" font-family="'Liberation Sans', Arial, Helvetica, sans-serif" font-weight="bold" font-size="11" text-anchor="middle" textLength="64" lengthAdjust="spacingAndGlyphs" fill="#111">Instances</text>
<text x="461.9" y="324.1" font-family="'Liberation Sans', Arial, Helvetica, sans-serif" font-weight="bold" font-size="12.6" textLength="159.7" lengthAdjust="spacingAndGlyphs" fill="#111">Errors = Targets - Outputs</text>
<rect x="591.5" y="27.6" width="83.8" height="59.4" fill="#fff" stroke="#333" stroke-width="1"/>
<rect x="594.4" y="29.70" width="32" height="10.6" fill="#0000ff" stroke="#000" stroke-width="0.9"/>
<text transform="translate(629.30,39.60) scale(1.0,1.1)" font-family="'Liberation Sans', Arial, Helvetica, sans-serif" font-size="9.6" fill="#1c1c1c">Training</text>
<rect x="594.4" y="44.30" width="32" height="10.6" fill="#00c800" stroke="#000" stroke-width="0.9"/>
<text transform="translate(629.30,54.20) scale(1.0,1.1)" font-family="'Liberation Sans', Arial, Helvetica, sans-serif" font-size="9.6" fill="#1c1c1c">Validation</text>
<rect x="594.4" y="58.90" width="32" height="10.6" fill="#ff0000" stroke="#000" stroke-width="0.9"/>
<text transform="translate(629.30,68.80) scale(1.0,1.1)" font-family="'Liberation Sans', Arial, Helvetica, sans-serif" font-size="9.6" fill="#1c1c1c">Test</text>
<path d="M594.7 78.7H626" stroke="#ff9900" stroke-width="2"/>
<text transform="translate(629.30,83.70) scale(1.0,1.1)" font-family="'Liberation Sans', Arial, Helvetica, sans-serif" font-size="9.6" fill="#1c1c1c">Zero Error</text>
<text x="495.8" y="343.4" font-family="'Liberation Serif', 'Times New Roman', serif" font-size="15.8" textLength="47.6" lengthAdjust="spacingAndGlyphs" fill="#000">(b) EHs</text>
</svg>
</body></html>
